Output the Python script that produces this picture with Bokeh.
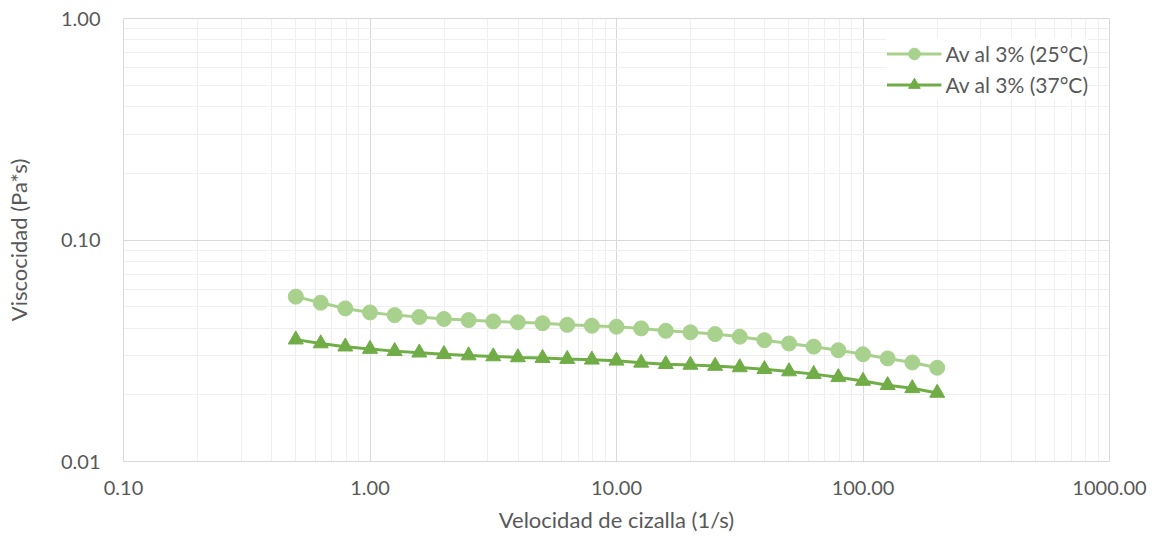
from bokeh.plotting import figure
from bokeh.models import FixedTicker, CustomJSTickFormatter, Legend, LegendItem
from bokeh.embed import file_html
from bokeh.resources import INLINE

# Data (shear rate in 1/s, viscosity in Pa*s)
shear_rate = [0.5, 0.631, 0.794, 1.0, 1.259, 1.585, 1.995, 2.512, 3.162, 3.981,
              5.012, 6.310, 7.943, 10.0, 12.59, 15.85, 19.95, 25.12, 31.62, 39.81,
              50.12, 63.10, 79.43, 100.0, 125.9, 158.5, 200.0]
visc_25 = [0.0555, 0.0521, 0.0491, 0.0471, 0.0458, 0.0449, 0.0440, 0.0435, 0.0429, 0.0425,
           0.0421, 0.0414, 0.0410, 0.0406, 0.0399, 0.0389, 0.0383, 0.0376, 0.0366, 0.0353,
           0.0341, 0.0330, 0.0318, 0.0305, 0.0292, 0.0280, 0.0265]
visc_37 = [0.0355, 0.0341, 0.0330, 0.0322, 0.0315, 0.0310, 0.0305, 0.0301, 0.0298, 0.0295,
           0.0293, 0.0290, 0.0288, 0.0285, 0.0279, 0.0275, 0.0273, 0.0270, 0.0266, 0.0261,
           0.0255, 0.0248, 0.0240, 0.0231, 0.0221, 0.0214, 0.0204]
series_labels = ["Av al 3% (25°C)", "Av al 3% (37°C)"]
x_ticks = [0.1, 1, 10, 100, 1000]
y_ticks = [0.01, 0.1, 1]

FONT = "Lato"
TXT = "#595959"

p = figure(width=1158, height=536, x_axis_type="log", y_axis_type="log",
           x_range=(0.1, 1000), y_range=(0.01, 1),
           output_backend="svg", toolbar_location=None,
           min_border_left=123, min_border_right=49, min_border_top=18, min_border_bottom=75)

p.outline_line_color = "#D9D9D9"
p.outline_line_width = 1

x_minor = [m * d for d in [0.1, 1, 10, 100] for m in range(2, 10)]
y_minor = [m * d for d in [0.01, 0.1] for m in range(2, 10)]
p.xaxis.ticker = FixedTicker(ticks=x_ticks, minor_ticks=x_minor)
p.yaxis.ticker = FixedTicker(ticks=y_ticks, minor_ticks=y_minor)
fmt = CustomJSTickFormatter(code="return tick.toFixed(2);")
p.xaxis.formatter = fmt
p.yaxis.formatter = fmt

for ax in (p.xaxis[0], p.yaxis[0]):
    ax.major_tick_line_color = None
    ax.minor_tick_line_color = None
    ax.major_tick_out = 0
    ax.minor_tick_out = 0
    ax.axis_line_color = "#D9D9D9"
    ax.major_label_text_font = FONT
    ax.major_label_text_font_size = "20px"
    ax.major_label_text_color = TXT
    ax.axis_label_text_font = FONT
    ax.axis_label_text_font_size = "22px"
    ax.axis_label_text_color = TXT
    ax.axis_label_text_font_style = "normal"

p.xaxis.axis_label = "Velocidad de cizalla (1/s)"
p.yaxis.axis_label = "Viscocidad (Pa*s)"
p.xaxis.major_label_standoff = 19
p.xaxis.axis_label_standoff = 8
p.yaxis.major_label_standoff = 23
p.yaxis.axis_label_standoff = 26

for g in (p.xgrid[0], p.ygrid[0]):
    g.grid_line_color = "#D9D9D9"
    g.grid_line_width = 1
    g.minor_grid_line_color = "#EFEFEF"
    g.minor_grid_line_width = 1

c25 = "#A9D18E"
c37 = "#70AD47"
l1 = p.line(shear_rate, visc_25, line_color=c25, line_width=3)
s1 = p.scatter(shear_rate, visc_25, marker="circle", size=15, fill_color=c25, line_color=c25)
l2 = p.line(shear_rate, visc_37, line_color=c37, line_width=3)
s2 = p.scatter(shear_rate, visc_37, marker="triangle", size=15, fill_color=c37, line_color=c37)

legend = Legend(items=[LegendItem(label=series_labels[0], renderers=[l1, s1]),
                       LegendItem(label=series_labels[1], renderers=[l2, s2])],
                location="top_right")
legend.border_line_color = None
legend.background_fill_color = "white"
legend.background_fill_alpha = 1
legend.label_text_font = FONT
legend.label_text_font_size = "21px"
legend.label_text_color = TXT
legend.glyph_width = 55
legend.glyph_height = 29
legend.label_height = 29
legend.spacing = 2
legend.padding = 6
legend.margin = 21
legend.label_standoff = 4
p.add_layout(legend)

open("out.html", "w").write(file_html(p, INLINE))
